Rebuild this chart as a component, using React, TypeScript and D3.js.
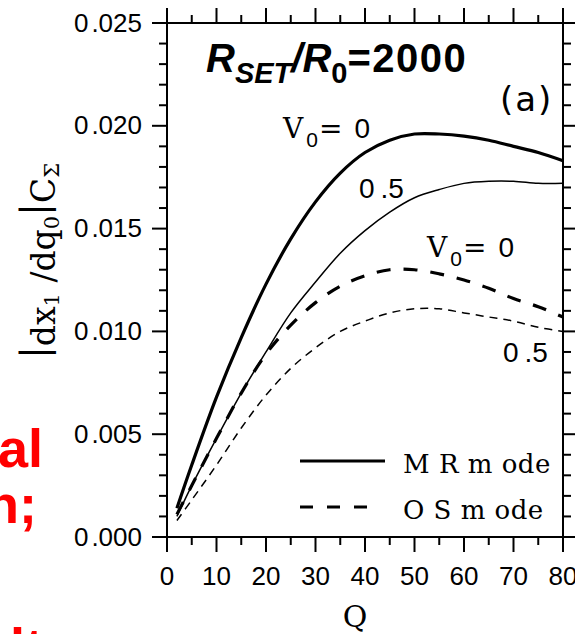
import React from "react";
import * as d3 from "d3";

// Q values (x) and the four curves
const qValues = [2, 5, 10, 15, 20, 25, 30, 35, 40, 45, 50, 55, 60, 65, 70, 75, 80];
const mrV0 = [0.0014, 0.0035, 0.0068, 0.0097, 0.0123, 0.0145, 0.0163, 0.0177, 0.0187, 0.0193, 0.0196, 0.0196, 0.0195, 0.0193, 0.0190, 0.0187, 0.0183];
const mrV05 = [0.0010, 0.0025, 0.0048, 0.0070, 0.0090, 0.0109, 0.0124, 0.0138, 0.0149, 0.0158, 0.0165, 0.0169, 0.0172, 0.0173, 0.0173, 0.0172, 0.0172];
const osV0 = [0.0011, 0.0025, 0.0048, 0.0070, 0.0089, 0.0103, 0.0114, 0.0122, 0.0127, 0.0130, 0.0130, 0.0128, 0.0125, 0.0121, 0.0116, 0.0112, 0.0107];
const osV05 = [0.0008, 0.0018, 0.0035, 0.0053, 0.0069, 0.0082, 0.0092, 0.0100, 0.0105, 0.0109, 0.0111, 0.0111, 0.0109, 0.0107, 0.0105, 0.0102, 0.0100];

const xTicks = [0, 10, 20, 30, 40, 50, 60, 70, 80];
const yTicks = [0, 0.005, 0.01, 0.015, 0.02, 0.025];
const yTickLabels = ["0.000", "0.005", "0.010", "0.015", "0.020", "0.025"];
const legendLabels = ["M R m ode", "O S m ode"];

const width = 575;
const height = 634;
const sans = "'Liberation Sans', Arial, sans-serif";
const serif = "'DejaVu Serif', serif";

export default function App() {
  const x = d3.scaleLinear().domain([0, 80]).range([167, 563]);
  const y = d3.scaleLinear().domain([0, 0.025]).range([537, 23]);

  const line = d3
    .line<number>()
    .x((_, i) => x(qValues[i]))
    .y((d) => y(d))
    .curve(d3.curveCatmullRom.alpha(0.5));

  const xMinor = d3.range(0, 81, 5);
  const yMinor = d3.range(0, 26).map((i) => i / 1000);

  const series = [
    { vals: mrV0, w: 3.2, dash: "" },
    { vals: mrV05, w: 1.5, dash: "" },
    { vals: osV0, w: 3.2, dash: "14,13" },
    { vals: osV05, w: 1.5, dash: "8,6" },
  ];

  return (
    <svg width={width} height={height} style={{ position: "absolute", left: 0, top: 0, background: "#fff" }}>
      <rect x={0} y={0} width={width} height={height} fill="#fff" />

      {/* red text spilling from the neighbouring column */}
      <g fill="#ff0000" fontFamily={sans} fontWeight="bold" fontSize={54} textAnchor="end">
        <text x={43} y={467}>al</text>
        <text x={37} y={523}>n;</text>
        <text x={43} y={666}>lt</text>
      </g>

      {/* frame */}
      <rect x={x(0)} y={y(0.025)} width={x(80) - x(0)} height={y(0) - y(0.025)} fill="none" stroke="#000" strokeWidth={2} />

      {/* y ticks, left + right, outside */}
      {yMinor.map((v, i) => {
        const major = i % 5 == 0;
        const len = major ? 15 : 8;
        return (
          <g key={"yt" + i} stroke="#000" strokeWidth={2}>
            <line x1={x(0) - len} x2={x(0)} y1={y(v)} y2={y(v)} />
            <line x1={x(80)} x2={x(80) + len} y1={y(v)} y2={y(v)} />
          </g>
        );
      })}
      {xMinor.map((v, i) => {
        const major = i % 2 == 0;
        const len = major ? 15 : 8;
        return (
          <g key={"xt" + i} stroke="#000" strokeWidth={2}>
            <line x1={x(v)} x2={x(v)} y1={y(0)} y2={y(0) + len} />
            <line x1={x(v)} x2={x(v)} y1={y(0.025) - len} y2={y(0.025)} />
          </g>
        );
      })}

      {/* tick labels */}
      {yTicks.map((v, i) => {
        const s = yTickLabels[i];
        return (
          <text key={"yl" + i} x={142} y={y(v) + 8.5} fontFamily={sans} fontSize={26} textAnchor="end" fill="#000">
            {s.slice(0, 1)}
            <tspan dx={3}>{s.slice(1)}</tspan>
          </text>
        );
      })}
      {xTicks.map((v) => (
        <text key={"xl" + v} x={x(v)} y={585} fontFamily={sans} fontSize={26} textAnchor="middle" fill="#000">
          {v}
        </text>
      ))}

      {/* axis titles */}
      <text x={355} y={627} fontFamily={serif} fontSize={30} textAnchor="middle" fill="#000">Q</text>
      <text transform="translate(55,261) rotate(-90)" fontFamily={serif} fontSize={33} textAnchor="middle" fill="#000">
        <tspan fontSize={38} dy={-8}>|</tspan>
        <tspan dy={8}>dx</tspan>
        <tspan fontSize={21} dy={4}>1</tspan>
        <tspan dy={-4}> /dq</tspan>
        <tspan fontSize={21} dy={4}>0</tspan>
        <tspan fontSize={38} dy={-12}>|</tspan>
        <tspan dy={8}>C</tspan>
        <tspan fontSize={21} dy={4}>Σ</tspan>
      </text>

      {/* curves */}
      {series.map((s, i) => (
        <path key={"s" + i} d={line(s.vals) || ""} fill="none" stroke="#000" strokeWidth={s.w} strokeDasharray={s.dash || undefined} />
      ))}

      {/* title */}
      <text x={206} y={72} fontFamily={sans} fontWeight="bold" fontSize={40} fill="#000">
        <tspan fontStyle="italic">R</tspan>
        <tspan fontStyle="italic" fontSize={29} dy={11}>SET</tspan>
        <tspan fontStyle="italic" dy={-11}>/R</tspan>
        <tspan fontSize={29} dy={11}>0</tspan>
        <tspan dy={-11} letterSpacing={1.5}>=2000</tspan>
      </text>
      <text x={500} y={111} fontFamily="'DejaVu Sans', sans-serif" fontSize={34} letterSpacing={2} fill="#000">(a)</text>

      {/* curve labels */}
      <text x={283} y={138} fontFamily={serif} fontSize={28} fill="#000">
        V<tspan fontFamily={sans} fontSize={21} dx={3} dy={9}>0</tspan>
        <tspan dy={-9} dx={1}>=</tspan>
        <tspan fontFamily={sans} dx={12}>0</tspan>
      </text>
      <text x={359} y={198} fontFamily={sans} fontSize={28} fill="#000">
        0<tspan dx={6}>.5</tspan>
      </text>
      <text x={427} y={257} fontFamily={serif} fontSize={28} fill="#000">
        V<tspan fontFamily={sans} fontSize={21} dx={3} dy={9}>0</tspan>
        <tspan dy={-9} dx={1}>=</tspan>
        <tspan fontFamily={sans} dx={12}>0</tspan>
      </text>
      <text x={503} y={362} fontFamily={sans} fontSize={28} fill="#000">
        0<tspan dx={6}>.5</tspan>
      </text>

      {/* legend */}
      <line x1={300} x2={385} y1={461} y2={461} stroke="#000" strokeWidth={3.2} />
      <line x1={300} x2={370} y1={507} y2={507} stroke="#000" strokeWidth={3.2} strokeDasharray="13,14" />
      <text x={403} y={473} fontFamily={serif} fontSize={26} fill="#000" letterSpacing={0.5}>{legendLabels[0]}</text>
      <text x={403} y={519} fontFamily={serif} fontSize={26} fill="#000" letterSpacing={0.5}>{legendLabels[1]}</text>
    </svg>
  );
}
